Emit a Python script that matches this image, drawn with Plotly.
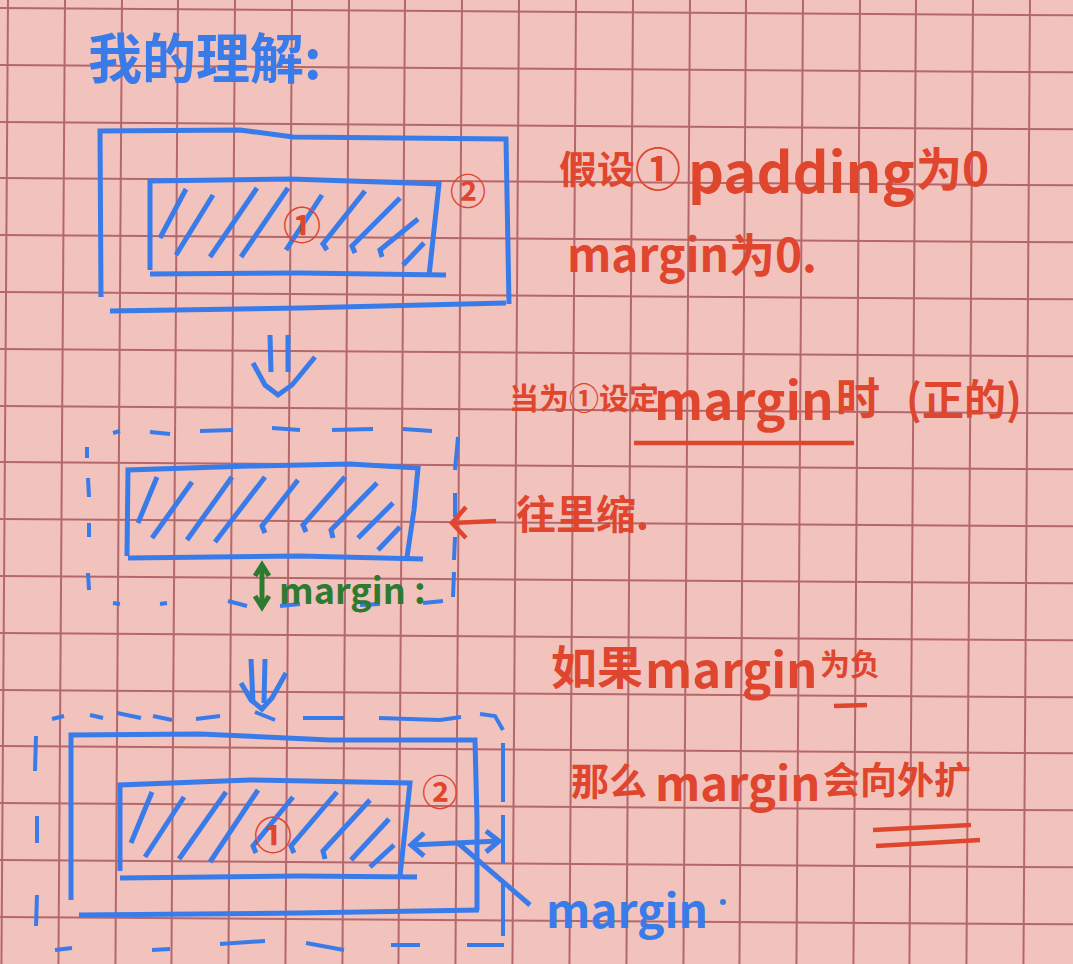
import plotly.graph_objects as go

# paper + ink colours
BG = "#F2C3BC"
GRID_COLOR = "#B5686B"
BLUE = "#3A7BEA"
RED = "#E0452E"
GREEN = "#2E7A31"

# grid line positions (px) and the slight tilt of the photographed paper
GRID_X = [8, 65, 122, 178, 235, 292, 349, 405, 462, 519, 576, 633, 690, 746, 803, 860, 916, 973, 1030]
GRID_Y = [8, 65, 122, 178, 235, 292, 349, 406, 462, 519, 576, 633, 690, 746, 803, 860, 917]
TILT = 0.0068

# --- drawing 1: box with padding 0 ---
box1_outer = [(101, 297), (100, 131), (240, 130), (293, 137), (506, 139), (507, 220), (509, 304)]
box1_outer_bottom = [(110, 311), (300, 308), (506, 303)]
box1_inner = [(150, 270), (150, 181), (290, 179), (439, 184), (434, 230), (429, 276)]
box1_inner_bottom = [(150, 274), (300, 273), (446, 275)]
box1_hatch = [
    [(160, 238), (186, 189)],
    [(176, 255), (213, 195)],
    [(210, 257), (257, 188)],
    [(241, 257), (288, 188)],
    [(286, 250), (322, 195)],
    [(327, 250), (323, 244), (365, 191)],
    [(355, 253), (352, 246), (400, 198)],
    [(382, 257), (380, 250), (418, 219)],
    [(403, 265), (424, 243)],
]

# --- arrow down 1 ---
arrow1_bars = [[(270, 335), (271, 372)], [(288, 335), (288, 372)]]
arrow1_head = [(253, 363), (265, 385), (278, 395), (292, 385), (315, 357)]

# --- drawing 2: positive margin ---
box2_inner = [(127, 556), (128, 470), (250, 466), (350, 464), (418, 468), (414, 510), (407, 557)]
box2_inner_bottom = [(128, 558), (300, 556), (423, 559)]
box2_hatch = [
    [(138, 523), (157, 477)],
    [(152, 538), (192, 482)],
    [(187, 540), (232, 477)],
    [(215, 542), (265, 477)],
    [(265, 533), (262, 526), (298, 480)],
    [(306, 532), (303, 525), (345, 477)],
    [(333, 538), (331, 530), (377, 483)],
    [(358, 538), (393, 503)],
    [(378, 550), (400, 527)],
]
box2_dashes = [
    [(113, 433), (120, 431)], [(150, 432), (170, 434)], [(200, 431), (233, 430)],
    [(272, 428), (300, 430)], [(332, 430), (373, 429)], [(403, 429), (432, 431)],
    [(87, 447), (87, 458)], [(88, 478), (89, 497)], [(89, 523), (89, 537)], [(88, 573), (89, 590)],
    [(458, 437), (455, 470)], [(455, 493), (455, 517)], [(455, 537), (454, 560)], [(454, 572), (453, 597)],
    [(113, 603), (120, 604)], [(160, 604), (167, 603)], [(228, 601), (247, 606)],
    [(280, 606), (300, 604)], [(360, 605), (380, 604)], [(423, 603), (443, 601)],
]
green_shaft = [(262, 566), (262, 606)]
green_heads = [[(255, 576), (262, 565), (269, 576)], [(255, 596), (262, 607), (269, 596)]]
red_arrow_shaft = [(452, 523), (496, 521)]
red_arrow_head = [(466, 507), (452, 523), (466, 538)]

# --- arrow down 2 ---
arrow2_bars = [[(251, 659), (253, 703)], [(265, 659), (264, 703)]]
arrow2_head = [(241, 683), (251, 700), (262, 709), (272, 698), (286, 673)]

# --- drawing 3: negative margin ---
box3_outer = [(71, 900), (71, 735), (200, 734), (330, 740), (475, 740), (477, 820), (477, 910)]
box3_outer_bottom = [(79, 915), (300, 913), (479, 910)]
box3_inner = [(120, 871), (120, 785), (250, 780), (410, 783), (405, 830), (400, 876)]
box3_inner_bottom = [(120, 878), (300, 876), (417, 877)]
box3_hatch = [
    [(131, 843), (152, 792)],
    [(145, 857), (184, 797)],
    [(179, 859), (226, 792)],
    [(210, 862), (258, 790)],
    [(256, 853), (253, 846), (293, 797)],
    [(294, 853), (291, 846), (337, 792)],
    [(325, 859), (323, 851), (370, 800)],
    [(351, 860), (389, 819)],
    [(370, 867), (394, 845)],
]
box3_dashes = [
    [(52, 719), (64, 716)], [(90, 715), (103, 718)], [(117, 713), (141, 718)],
    [(153, 716), (172, 720)], [(196, 719), (220, 716)], [(255, 712), (275, 720)],
    [(303, 718), (344, 718)], [(379, 718), (440, 720), (461, 717)], [(480, 714), (495, 716), (503, 730)],
    [(36, 736), (35, 771)], [(37, 816), (37, 843)], [(37, 895), (36, 926)],
    [(503, 743), (503, 802)], [(503, 815), (503, 864)], [(503, 881), (503, 936)],
    [(55, 950), (72, 948)], [(152, 950), (170, 949)], [(220, 944), (265, 941)],
    [(306, 943), (344, 950)], [(391, 945), (420, 945)], [(467, 945), (504, 945)],
]
blue_double_shaft = [(411, 845), (499, 841)]
blue_double_heads = [[(424, 833), (411, 845), (424, 856)], [(486, 831), (499, 841), (486, 852)]]
blue_pointer = [(458, 843), (530, 905)]

# red underlines
underline_margin = [(634, 443), (854, 443)]
underline_fu = [(834, 706), (867, 705)]
underline_kuo = [[(873, 830), (971, 825)], [(876, 846), (980, 840)]]

# text pieces: (text, x, y, size, colour)
texts = [
    ("我的理解:", 205, 55, 54, BLUE),
    ("①", 302, 222, 38, RED),
    ("②", 468, 189, 36, RED),
    ("假设", 597, 166, 38, RED),
    ("①", 658, 166, 46, RED),
    ("padding", 801, 168, 56, RED),
    ("为0", 952, 166, 46, RED),
    ("margin为0.", 692, 252, 46, RED),
    ("当为①设定", 584, 396, 30, RED),
    ("margin", 744, 398, 51, RED),
    ("时", 858, 396, 44, RED),
    ("(正的)", 964, 396, 42, RED),
    ("往里缩.", 582, 512, 40, RED),
    ("margin :", 352, 588, 36, GREEN),
    ("如果", 597, 664, 46, RED),
    ("margin", 731, 666, 49, RED),
    ("为负", 850, 662, 30, RED),
    ("那么", 609, 778, 38, RED),
    ("margin", 738, 780, 47, RED),
    ("会向外扩", 897, 778, 37, RED),
    ("①", 273, 832, 38, RED),
    ("②", 440, 790, 36, RED),
    ("margin", 627, 908, 46, BLUE),
]
blue_dot = (723, 902)

W, H = 1073, 964


def join(strokes):
    xs, ys = [], []
    for s in strokes:
        xs += [p[0] for p in s] + [None]
        ys += [p[1] for p in s] + [None]
    return xs, ys


def ink(fig, strokes, color, width=5):
    xs, ys = join(strokes)
    fig.add_trace(go.Scatter(x=xs, y=ys, mode="lines", hoverinfo="skip",
                             line=dict(color=color, width=width)))


fig = go.Figure()

# paper grid (slightly rotated)
grid = [[(gx, 0), (gx - TILT * H, H)] for gx in GRID_X]
grid += [[(0, gy), (W, gy + TILT * W)] for gy in GRID_Y]
xs, ys = join(grid)
fig.add_trace(go.Scatter(x=xs, y=ys, mode="lines", hoverinfo="skip",
                         line=dict(color=GRID_COLOR, width=2)))

blue_strokes = [box1_outer, box1_outer_bottom, box1_inner, box1_inner_bottom] + box1_hatch
blue_strokes += arrow1_bars + [arrow1_head]
blue_strokes += [box2_inner, box2_inner_bottom] + box2_hatch
blue_strokes += arrow2_bars + [arrow2_head]
blue_strokes += [box3_outer, box3_outer_bottom, box3_inner, box3_inner_bottom] + box3_hatch
blue_strokes += [blue_double_shaft] + blue_double_heads + [blue_pointer]
ink(fig, blue_strokes, BLUE, 5)
ink(fig, box2_dashes + box3_dashes, BLUE, 4)
ink(fig, [green_shaft] + green_heads, GREEN, 5)
ink(fig, [red_arrow_shaft, red_arrow_head, underline_margin, underline_fu] + underline_kuo, RED, 4.5)

fig.add_trace(go.Scatter(x=[blue_dot[0]], y=[blue_dot[1]], mode="markers", hoverinfo="skip",
                         marker=dict(color=BLUE, size=6)))

for t, x, y, s, c in texts:
    fig.add_annotation(x=x, y=y, text="<b>" + t + "</b>", showarrow=False,
                       xanchor="center", yanchor="middle",
                       font=dict(family="Noto Sans CJK SC", size=s, color=c))

fig.update_layout(
    width=W, height=H,
    margin=dict(l=0, r=0, t=0, b=0),
    paper_bgcolor=BG, plot_bgcolor=BG,
    showlegend=False,
    xaxis=dict(range=[0, W], visible=False, fixedrange=True),
    yaxis=dict(range=[H, 0], visible=False, fixedrange=True),
)

fig.write_html("out.html", config={"displayModeBar": False},
               post_script="document.body.style.margin='0';")
